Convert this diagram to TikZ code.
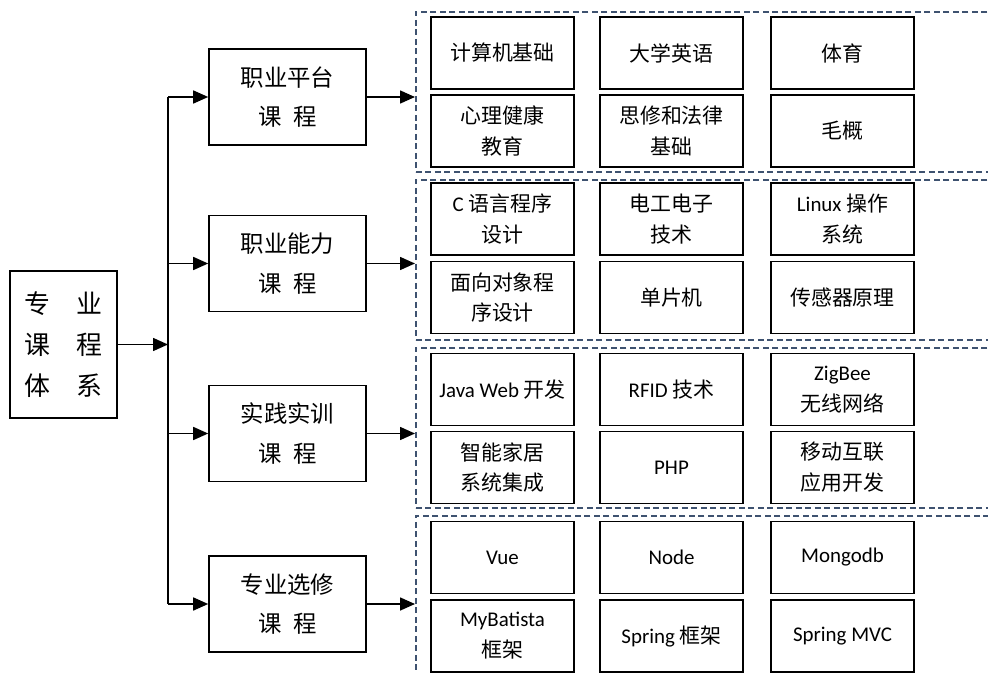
\documentclass[tikz,border=0pt]{standalone}
\usepackage{fontspec}
\setmainfont{Noto Sans CJK SC}
\newfontfamily\latfont{Carlito}
\newcommand{\latn}[1]{{\latfont #1}}
\usetikzlibrary{arrows.meta}
\definecolor{dashblue}{HTML}{3E5270}
\tikzset{
  frame/.style={draw, line width=1.6bp, inner sep=0pt, align=center},
  leftbox/.style={frame, minimum width=107bp, minimum height=147bp, font=\fontsize{26}{41}\selectfont},
  midbox/.style={frame, minimum width=157bp, minimum height=96bp, font=\fontsize{23.5}{40}\selectfont},
  cell/.style={frame, minimum width=143bp, minimum height=72bp, font=\fontsize{21}{31}\selectfont},
  group/.style={draw=dashblue, dash pattern=on 6bp off 3.5bp, line width=1.6bp, inner sep=0pt, minimum width=600bp, anchor=north west},
  arr/.style={-{Triangle[length=15bp,width=13bp]}, line width=1.6bp},
  conn/.style={line width=1.6bp}
}
\begin{document}
\begin{tikzpicture}[x=1bp,y=-1bp]
\useasboundingbox (0,0) rectangle (988,673);
\clip (0,0) rectangle (988,673);

% left box
\node[leftbox] (L) at (63.5,344.5) {专\hspace{1em}业\\课\hspace{1em}程\\体\hspace{1em}系};

% middle boxes
\node[midbox] (m1) at (287.5,97) {职业平台\\课\hspace{0.5em}程};
\node[midbox] (m2) at (287.5,263.5) {职业能力\\课\hspace{0.5em}程};
\node[midbox] (m3) at (287.5,433.5) {实践实训\\课\hspace{0.5em}程};
\node[midbox] (m4) at (287.5,604) {专业选修\\课\hspace{0.5em}程};

% dashed groups
\node[group, minimum height=160bp] (g1) at (415,11) {};
\node[group, minimum height=160bp] (g2) at (415,179) {};
\node[group, minimum height=160bp] (g3) at (415,347) {};
\node[group, minimum height=200bp] (g4) at (415,515) {};

% trunk
\coordinate (ttop) at (168,97);
\coordinate (tbot) at (168,604);
\draw[conn] (ttop) -- (tbot);
\draw[arr] (L.east) -- (L.east -| ttop);
\foreach \i in {1,2,3,4} {
  \draw[arr] (m\i.west -| ttop) -- (m\i.west);
  \draw[arr] (m\i.east) -- (m\i.east -| g\i.west);
}

% group 1
\node[cell] (a11) at (502.5,53) {计算机基础};
\node[cell] (a12) at (671.5,53) {大学英语};
\node[cell] (a13) at (842.5,53) {体育};
\node[cell] (a21) at (502.5,131) {心理健康\\教育};
\node[cell] (a22) at (671.5,131) {思修和法律\\基础};
\node[cell] (a23) at (842.5,131) {毛概};

% group 2
\node[cell] (b11) at (502.5,219) {\latn{C} 语言程序\\设计};
\node[cell] (b12) at (671.5,219) {电工电子\\技术};
\node[cell] (b13) at (842.5,219) {\latn{Linux} 操作\\系统};
\node[cell] (b21) at (502.5,297.5) {面向对象程\\序设计};
\node[cell] (b22) at (671.5,297.5) {单片机};
\node[cell] (b23) at (842.5,297.5) {传感器原理};

% group 3
\node[cell] (c11) at (502.5,389.5) {\latn{Java Web} 开发};
\node[cell] (c12) at (671.5,389.5) {\latn{RFID} 技术};
\node[cell] (c13) at (842.5,389.5) {\latn{ZigBee}\\无线网络};
\node[cell] (c21) at (502.5,467.5) {智能家居\\系统集成};
\node[cell] (c22) at (671.5,467.5) {\latn{PHP}};
\node[cell] (c23) at (842.5,467.5) {移动互联\\应用开发};

% group 4
\node[cell] (d11) at (502.5,557.5) {\latn{Vue}};
\node[cell] (d12) at (671.5,557.5) {\latn{Node}};
\node[cell] (d13) at (842.5,557.5) {\latn{Mongodb}};
\node[cell] (d21) at (502.5,636) {\latn{MyBatista}\\框架};
\node[cell] (d22) at (671.5,636) {\latn{Spring} 框架};
\node[cell] (d23) at (842.5,636) {\latn{Spring MVC}};
\end{tikzpicture}
\end{document}
